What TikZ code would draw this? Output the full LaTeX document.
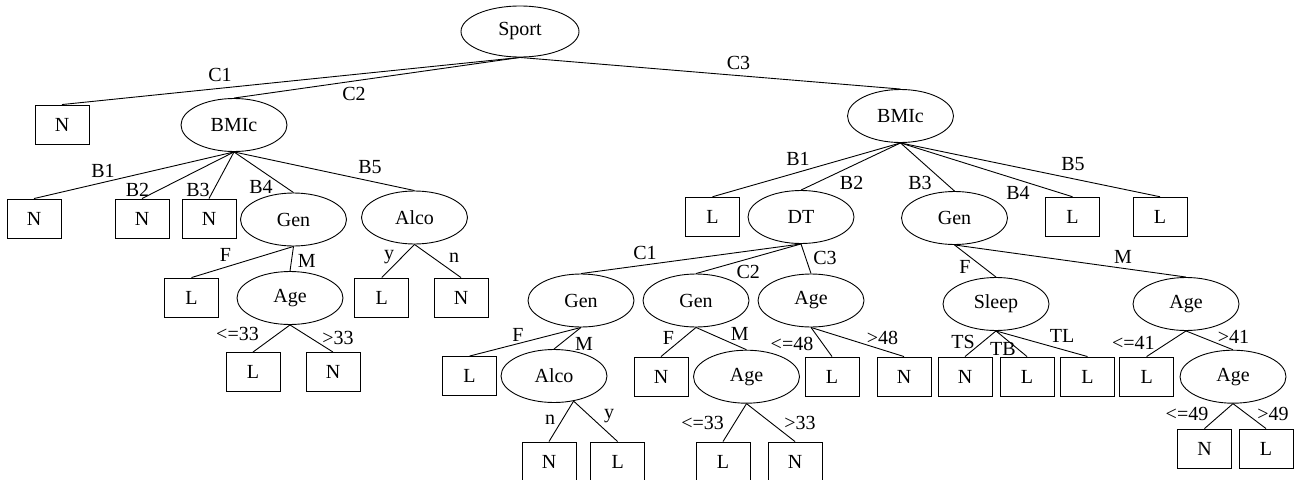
\documentclass[tikz,border=0pt]{standalone}
\usepackage{fontspec}
\setmainfont{Liberation Serif}
\usetikzlibrary{shapes.geometric}
\tikzset{
  split/.style={ellipse,draw,line width=0.9pt,minimum width=106pt,minimum height=53pt,inner sep=0pt},
  leaf/.style={rectangle,draw,line width=0.9pt,minimum width=54pt,minimum height=39pt,inner sep=0pt},
  lbl/.style={inner sep=0pt},
  edge/.style={line width=0.9pt}
}
\begin{document}
\begin{tikzpicture}[x=1pt,y=-1pt,font=\fontsize{20}{23}\selectfont]
\useasboundingbox (0,0) rectangle (1295,479);
% root
\node[split,minimum width=118pt,minimum height=51pt] (sport) at (520,31.5) {Sport};
% level 1
\node[leaf] (n0) at (62,124.5) {N};
\node[split] (bl) at (234,125) {BMIc};
\node[split] (br) at (900.5,116) {BMIc};
% level 2, left
\node[leaf] (n1) at (34,218.5) {N};
\node[leaf] (n2) at (142,218.5) {N};
\node[leaf] (n3) at (209,218.5) {N};
\node[split] (genl) at (293.5,219.5) {Gen};
\node[split] (alcol) at (414.5,217.5) {Alco};
% level 2, right
\node[leaf] (l1) at (712.5,216.7) {L};
\node[split] (dt) at (801,217) {DT};
\node[split] (genr) at (954.5,218) {Gen};
\node[leaf] (l4) at (1072.5,216.7) {L};
\node[leaf] (l5) at (1160,216.7) {L};
% level 3
\node[leaf] (lgl) at (191.5,297.5) {L};
\node[split] (agel) at (290,298) {Age};
\node[leaf] (ly) at (381.8,297.5) {L};
\node[leaf] (nn) at (461,297.5) {N};
\node[split] (gendt) at (581,300.5) {Gen};
\node[split] (genc) at (696,300.5) {Gen};
\node[split] (agec) at (811,300.5) {Age};
\node[split] (sleep) at (996,304) {Sleep};
\node[split] (agem) at (1186,304) {Age};
% level 4
\node[leaf] (la) at (253,372) {L};
\node[leaf] (na) at (333,372) {N};
\node[leaf] (lf) at (469.6,376) {L};
\node[split] (alcob) at (554,376) {Alco};
\node[leaf] (nf) at (661,376.5) {N};
\node[split] (ageb) at (746.5,376.7) {Age};
\node[leaf] (lle) at (832,376.5) {L};
\node[leaf] (ngt) at (904,376.5) {N};
\node[leaf] (nts) at (965,376.5) {N};
\node[leaf] (ltb) at (1027,376.5) {L};
\node[leaf] (ltl) at (1087.5,376.5) {L};
\node[leaf] (lle41) at (1146.6,376.5) {L};
\node[split] (agebr) at (1233,376.7) {Age};
% level 5
\node[leaf] (nn2) at (549,461.5) {N};
\node[leaf] (ly2) at (617.6,461.5) {L};
\node[leaf] (lb) at (723,461.5) {L};
\node[leaf] (nb) at (795,461.5) {N};
\node[leaf] (n49) at (1204.5,448.5) {N};
\node[leaf] (l49) at (1266,448.5) {L};
% connectors
\foreach \p/\c in {sport/n0,sport/bl,sport/br,
  bl/n1,bl/n2,bl/n3,bl/genl,bl/alcol,
  genl/lgl,genl/agel,alcol/ly,alcol/nn,agel/la,agel/na,
  br/l1,br/dt,br/genr,br/l4,br/l5,
  dt/gendt,dt/genc,dt/agec,
  gendt/lf,gendt/alcob,
  genc/nf,genc/ageb,ageb/lb,ageb/nb,
  agec/lle,agec/ngt,
  genr/sleep,genr/agem,
  sleep/nts,sleep/ltb,sleep/ltl,
  agem/lle41,agem/agebr,agebr/n49,agebr/l49}
  \draw[edge] (\p.south) -- (\c.north);
% the lower Alco branches leave its rim right of the bottom point
\draw[edge] (alcob.-52) -- (nn2.north);
\draw[edge] (alcob.-52) -- (ly2.north);
% branch labels
\node[lbl] at (220,75) {C1};
\node[lbl] at (354,94) {C2};
\node[lbl] at (738.5,63) {C3};
\node[lbl] at (103,171) {B1};
\node[lbl] at (137.5,189.5) {B2};
\node[lbl] at (198,190) {B3};
\node[lbl] at (261,187) {B4};
\node[lbl] at (370,167) {B5};
\node[lbl] at (798,159) {B1};
\node[lbl] at (851.6,183) {B2};
\node[lbl] at (920,183) {B3};
\node[lbl] at (1018,193) {B4};
\node[lbl] at (1073,164) {B5};
\node[lbl] at (225.5,255) {F};
\node[lbl] at (306.7,260.5) {M};
\node[lbl] at (389,256.7) {y};
\node[lbl] at (454,258) {n};
\node[lbl] at (237.5,334) {<=33};
\node[lbl] at (338,337.5) {>33};
\node[lbl] at (645,253) {C1};
\node[lbl] at (748.3,271.7) {C2};
\node[lbl] at (825,258) {C3};
\node[lbl] at (518,335) {F};
\node[lbl] at (584,344) {M};
\node[lbl] at (550,420) {n};
\node[lbl] at (609,416) {y};
\node[lbl] at (668.5,338) {F};
\node[lbl] at (739.7,334) {M};
\node[lbl] at (702.7,422.7) {<=33};
\node[lbl] at (800,423) {>33};
\node[lbl] at (792,344) {<=48};
\node[lbl] at (882.4,338) {>48};
\node[lbl] at (965,267) {F};
\node[lbl] at (1123,256.5) {M};
\node[lbl] at (963,341.5) {TS};
\node[lbl] at (1003,348.5) {TB};
\node[lbl] at (1062,336) {TL};
\node[lbl] at (1133.4,342.5) {<=41};
\node[lbl] at (1233.4,337) {>41};
\node[lbl] at (1187,414) {<=49};
\node[lbl] at (1273,414) {>49};
\end{tikzpicture}
\end{document}
